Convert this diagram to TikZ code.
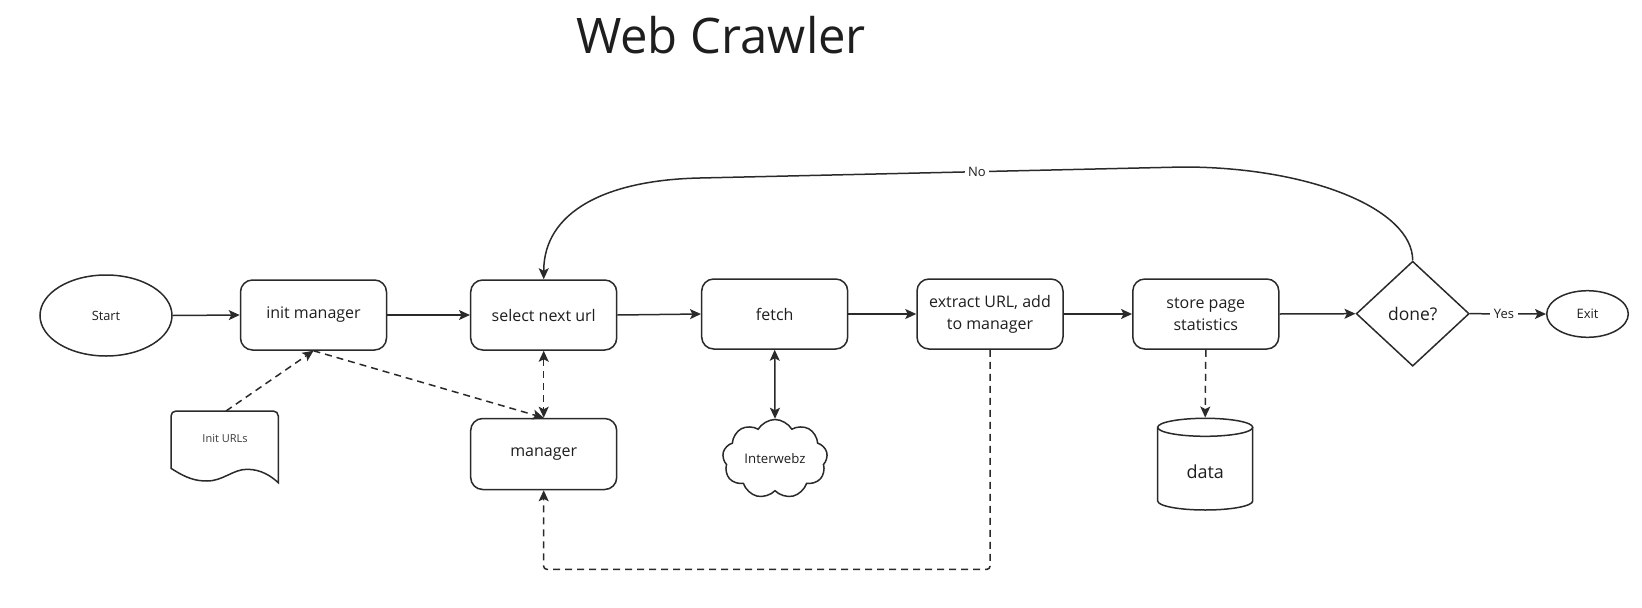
\documentclass[tikz,border=0pt]{standalone}
\usepackage{fontspec}
\setmainfont{Open Sans}
\usetikzlibrary{arrows.meta,shapes.geometric,shapes.symbols,calc}
\definecolor{ink}{HTML}{2A2A2A}
\definecolor{txt}{HTML}{1E1E1E}
\definecolor{greytxt}{HTML}{3A3A3A}
\begin{document}
\begin{tikzpicture}[x=1pt,y=-1pt, line width=1.5pt,
  >={Stealth[length=11pt,width=10pt,inset=2.5pt]},
  box/.style={draw=ink, rounded corners=12pt, minimum width=146pt, minimum height=70pt,
    font=\fontsize{16}{22}\selectfont, text=txt, align=center, inner sep=0pt},
  term/.style={draw=ink, ellipse, inner sep=0pt, text=txt},
  flow/.style={draw=ink, ->},
  dep/.style={draw=ink, ->, dash pattern=on 7pt off 5pt},
  lbl/.style={fill=white, inner sep=3.5pt, font=\fontsize{13}{15}\selectfont, text=txt}]
\useasboundingbox (0,0) rectangle (1642,608);
\node[font=\fontsize{49}{58}\selectfont, text=txt, anchor=base] (title) at (721,53) {Web Crawler};

\node[term, minimum width=132pt, minimum height=81pt, font=\fontsize{12.8}{15}\selectfont] (start) at (106,315.5) {Start};
\node[box] (init) at (313.5,315) {init manager};
\node[box] (select) at (543.7,315) {select next url};
\node[box] (fetch) at (774.7,314) {fetch};
\node[box] (extract) at (990,314) {extract URL, add\\to manager};
\node[box] (store) at (1205.8,314) {store page\\statistics};
\node[draw=ink, diamond, minimum width=113pt, minimum height=105pt, aspect=1.08, inner sep=0pt,
  font=\fontsize{17.5}{20}\selectfont, text=txt] (done) at (1412.7,313.7) {done?};
\node[term, minimum width=81.6pt, minimum height=46.6pt, font=\fontsize{13}{15}\selectfont] (exit) at (1587.5,314) {Exit};
\node[box, minimum height=71pt] (manager) at (543.7,454) {manager};
\node[cloud, draw=ink, cloud puffs=9, cloud puff arc=120, cloud ignores aspect, minimum width=105pt, minimum height=79pt,
  inner sep=0pt, font=\fontsize{13.2}{15}\selectfont, text=txt] (web) at (775,459) {Interwebz};

% Init URLs document
\draw[draw=ink, fill=white] (278.3,482.7) [rounded corners=5pt] -- (278.3,411) -- (171,411) [sharp corners] -- (171,468.3)
  .. controls (186,478) and (195,481) .. (207,481)
  .. controls (223,481) and (233,469.3) .. (247,469.3)
  .. controls (261,469.3) and (271,476) .. (278.3,482.7) -- cycle;
\coordinate (urlstop) at (226,411);
\node[font=\fontsize{11}{13}\selectfont, text=greytxt] (urls) at (225,439) {Init URLs};

% data cylinder
\node[minimum width=95pt, minimum height=91.7pt, inner sep=0pt] (data) at (1205.2,464.15) {};
\draw[draw=ink, fill=white] (1157.7,427.3) -- (1157.7,501) arc[start angle=180,end angle=0,x radius=47.5,y radius=9] -- (1252.7,427.3);
\draw[draw=ink] (1205.2,427.3) ellipse[x radius=47.5, y radius=9];
\node[font=\fontsize{18}{20}\selectfont, text=txt] (datatxt) at (1205.2,471.7) {data};

% connectors
\draw[flow] (start.east) -- (init.west);
\draw[flow] (init.east) -- (select.west);
\draw[flow] (select.east) -- (fetch.west);
\draw[flow] (fetch.east) -- (extract.west);
\draw[flow] (extract.east) -- (store.west);
\draw[flow] (store.east) -- (done.west);
\draw[flow] (done.east) -- node[lbl, pos=0.448] {Yes} (exit.west);
\draw[flow] (done.north) .. controls (1412.7,209) and (1310,167) .. (1183,167)
  -- node[lbl, pos=0.4265] {No} (700,178)
  .. controls (605,180) and (543.7,212) .. (select.north);
\draw[draw=ink, <->] (fetch.south) -- (web.north);
\draw[dep] (urlstop) -- (init.south);
\draw[dep] (init.south) -- (manager.north);
\draw[dep, <->] (select.south) -- (manager.north);
\draw[dep] (store.south) -- (data.north);
\coordinate (loop) at (990,569.3);
\draw[dep, rounded corners=3pt] (extract.south) -- (loop) -| (manager.south);
\end{tikzpicture}
\end{document}
